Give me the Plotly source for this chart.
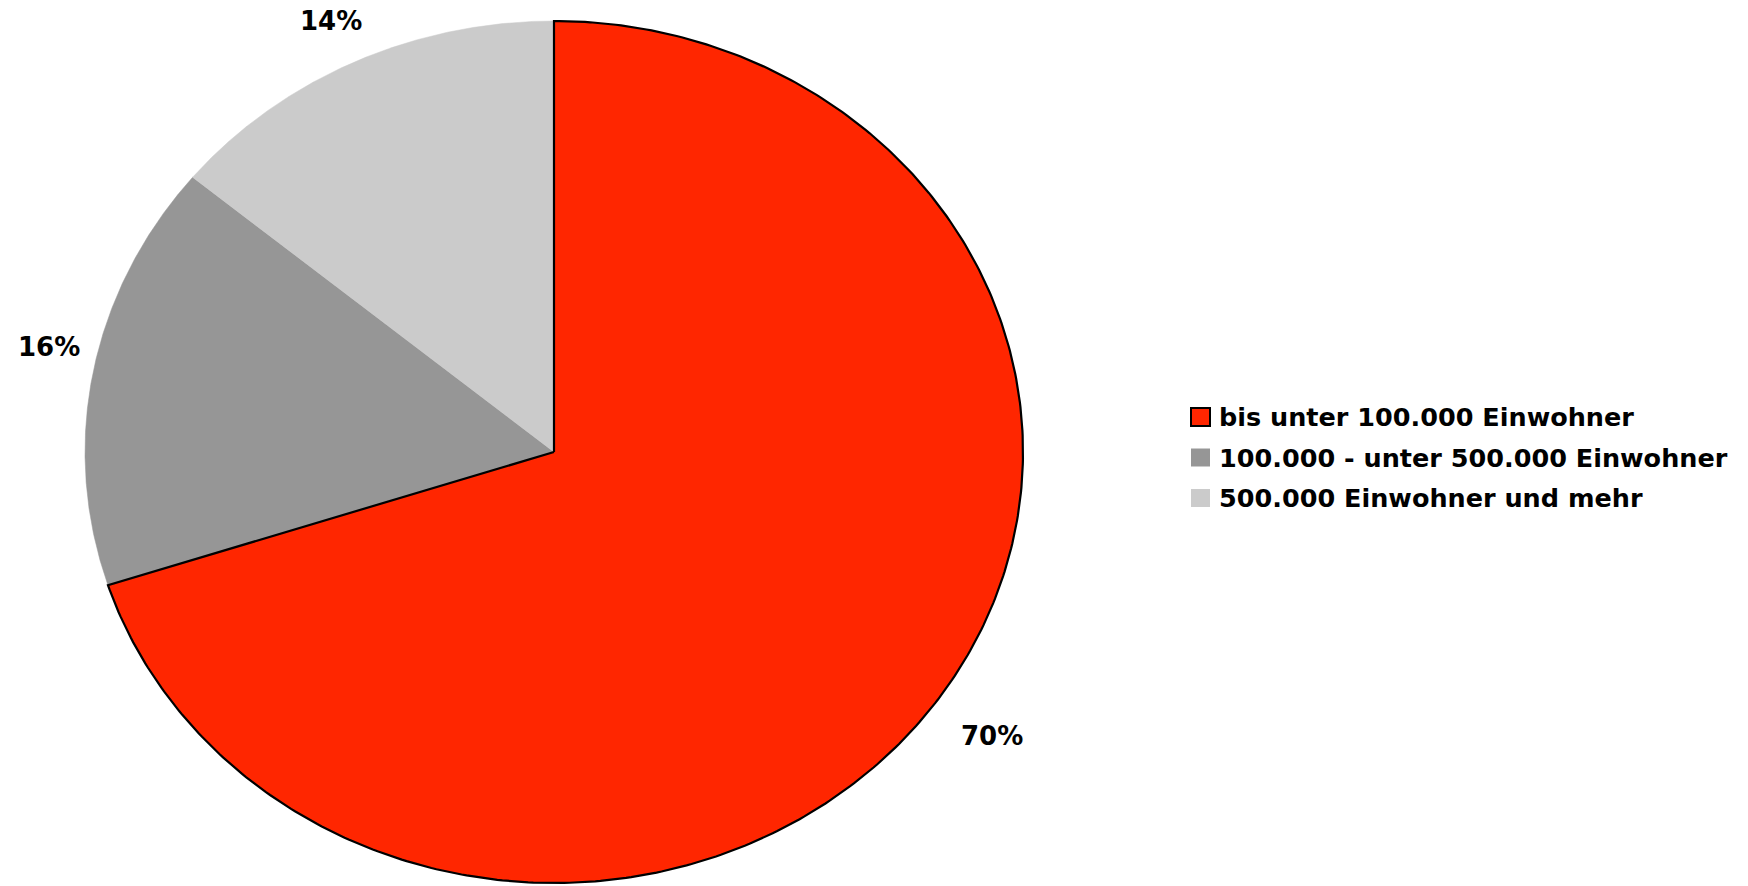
import numpy as np
import plotly.graph_objects as go

# Anteil nach Gemeindegrößenklasse
categories = [
    "bis unter 100.000 Einwohner",
    "100.000 - unter 500.000 Einwohner",
    "500.000 Einwohner und mehr",
]
values = [70, 16, 14]
colors = ["#FF2600", "#969696", "#CBCBCB"]
outlines = [2.2, 0, 0]

# Geometry of the elliptical pie (pixel-like axis units, y pointing down)
W, H = 1748, 886
CX, CY = 554, 452
RX, RY = 469, 431

# Outside percentage label anchors and legend placement
label_pos = [(992, 736), (49, 347), (331, 21)]
legend_x, legend_y0, legend_dy = 1191, 417, 40.5
FONT = "DejaVu Sans, Verdana, sans-serif"

fig = go.Figure()

total = float(sum(values))
start = 0.0
for cat, val, col, lw in zip(categories, values, colors, outlines):
    span = 2 * np.pi * val / total
    t = np.linspace(start, start + span, 400)
    xs = np.concatenate([[CX], CX + RX * np.sin(t), [CX]])
    ys = np.concatenate([[CY], CY - RY * np.cos(t), [CY]])
    fig.add_trace(go.Scatter(
        x=xs, y=ys, mode="lines", fill="toself", fillcolor=col,
        line=dict(color="black" if lw else col, width=lw if lw else 0.5),
        name=cat, showlegend=False, hoverinfo="name",
    ))
    start += span

# Draw the red slice on top so its outline is not covered
fig.data = (fig.data[1], fig.data[2], fig.data[0])

# Percentage labels
for val, (lx, ly) in zip(values, label_pos):
    fig.add_annotation(
        x=lx, y=ly, text=f"{val / total * 100:.0f}%", showarrow=False,
        xanchor="center", yanchor="middle",
        font=dict(family=FONT, size=26, color="black", weight="bold"),
    )

# Legend: swatches and labels
for i, (cat, col, lw) in enumerate(zip(categories, colors, outlines)):
    yc = legend_y0 + i * legend_dy
    fig.add_shape(
        type="rect", x0=legend_x, x1=legend_x + 19, y0=yc - 9, y1=yc + 9,
        fillcolor=col, line=dict(color="black" if lw else col, width=2 if lw else 0),
    )
    fig.add_annotation(
        x=legend_x + 26, y=yc, text=cat, showarrow=False,
        xanchor="left", yanchor="middle",
        font=dict(family=FONT, size=25.5, color="black", weight="bold"),
    )

fig.update_xaxes(range=[0, W], visible=False, fixedrange=True)
fig.update_yaxes(range=[H, 0], visible=False, fixedrange=True)
fig.update_layout(
    width=W, height=H,
    margin=dict(l=0, r=0, t=0, b=0),
    paper_bgcolor="white", plot_bgcolor="white",
    showlegend=False,
)

fig.write_html("out.html")
